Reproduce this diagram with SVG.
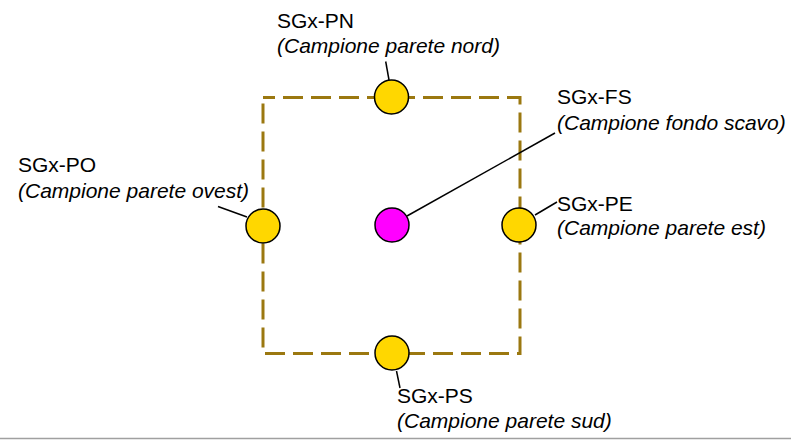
<svg xmlns="http://www.w3.org/2000/svg" width="791" height="440" viewBox="0 0 791 440">
<style>
text{font-family:"Liberation Sans",Arial,sans-serif;font-size:21px;fill:#000}
.it{font-style:italic}
.pt{stroke:#000;stroke-width:1.5}
.y{fill:#FFD700}
.m{fill:#FF00FF}
.ld{stroke:#000;stroke-width:1.5;fill:none}
</style>
<rect x="0" y="0" width="791" height="440" fill="#fff"/>
<g id="excavation">
<rect x="263" y="97.5" width="257" height="256" fill="none" stroke="#9B7810" stroke-width="3" stroke-dasharray="20 8" stroke-dashoffset="8"/>
</g>
<g id="connectors">
<line class="ld" x1="385.7" y1="61.5" x2="389" y2="80"/>
<line class="ld" x1="218" y1="206.5" x2="247" y2="217"/>
<line class="ld" x1="555" y1="133" x2="407" y2="216"/>
<line class="ld" x1="557" y1="202" x2="535" y2="215"/>
<line class="ld" x1="396.5" y1="371" x2="400" y2="388"/>
</g>
<g id="PN">
<circle class="pt y" cx="391.5" cy="97" r="17"/>
<text x="277" y="28">SGx-PN</text>
<text class="it" x="277" y="53">(Campione parete nord)</text>
</g>
<g id="PO">
<circle class="pt y" cx="263" cy="226" r="17"/>
<text x="18" y="172">SGx-PO</text>
<text class="it" x="18" y="198">(Campione parete ovest)</text>
</g>
<g id="FS">
<circle class="pt m" cx="392" cy="225" r="17"/>
<text x="557" y="104">SGx-FS</text>
<text class="it" x="557" y="130">(Campione fondo scavo)</text>
</g>
<g id="PE">
<circle class="pt y" cx="519" cy="225" r="17"/>
<text x="557" y="211">SGx-PE</text>
<text class="it" x="557" y="235">(Campione parete est)</text>
</g>
<g id="PS">
<circle class="pt y" cx="392" cy="353" r="17"/>
<text x="397" y="403">SGx-PS</text>
<text class="it" x="397" y="428">(Campione parete sud)</text>
</g>
<line x1="0" y1="438.5" x2="791" y2="438.5" stroke="#a0a0a0" stroke-width="1.5"/>
</svg>
